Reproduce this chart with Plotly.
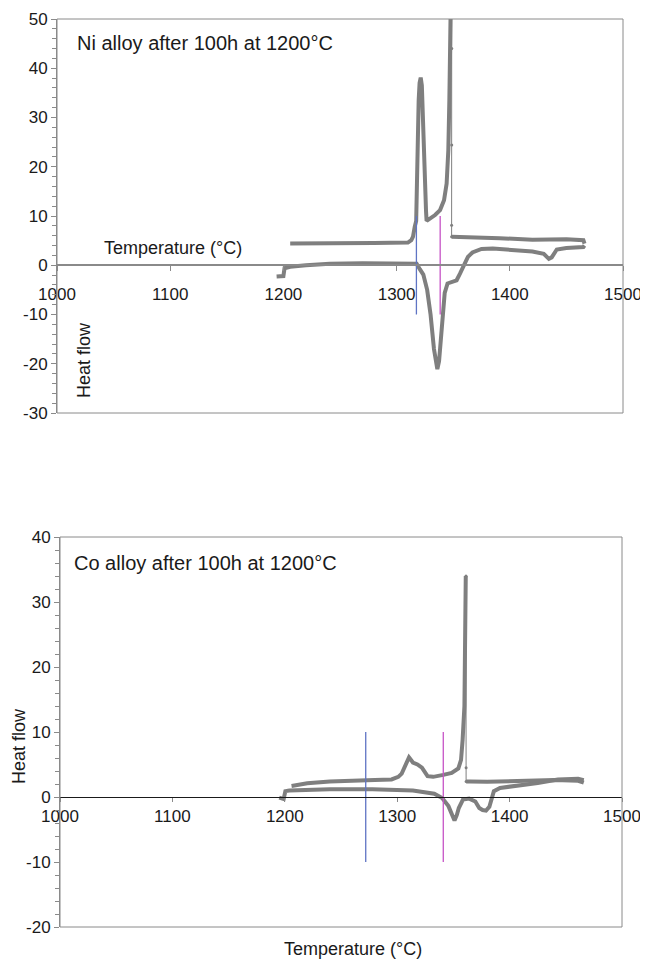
import plotly.graph_objects as go

# target picture size, and the 8px body margin the html page adds round the figure
W, H = 648, 965
OFF = 8
FW, FH = W - OFF, H - OFF

# ---- Ni alloy after 100h at 1200C (top panel) ----
# heating run
ni_heat_t = [1194, 1197, 1200, 1201, 1206, 1220, 1241, 1270, 1300, 1314, 1317.7, 1320.5,
             1323.6, 1327, 1330, 1333, 1334.5, 1336, 1337.5, 1339.5, 1341, 1342.5, 1345,
             1349, 1353, 1356, 1359, 1363, 1367, 1370.7, 1375, 1385, 1400, 1420, 1430,
             1433, 1434.5, 1437, 1439, 1441.5, 1450, 1460, 1465, 1466]
ni_heat_q = [-2.3, -2.3, -2.2, -0.6, -0.3, 0.0, 0.3, 0.4, 0.4, 0.4, 0.3, -0.8,
             -1.9, -5.0, -10.0, -17.0, -19.8, -21.1, -19.5, -13.0, -9.0, -5.6, -3.7,
             -3.3, -3.05, -1.7, -0.3, 1.7, 2.6, 3.0, 3.3, 3.4, 3.2, 2.8, 2.3,
             1.7, 1.3, 1.6, 2.2, 3.2, 3.5, 3.6, 3.7, 4.0]
# cooling run, down to the first undercooling point
ni_cool_a_t = [1466, 1465, 1450, 1420, 1391, 1362, 1350, 1348.6]
ni_cool_a_q = [4.4, 5.1, 5.3, 5.2, 5.5, 5.6, 5.7, 5.8]
# recalescence jump (sparse points)
ni_jump_t = [1348.6, 1348.6, 1348.7, 1348.7, 1348.7]
ni_jump_q = [5.8, 8.1, 24.4, 44.0, 56.0]
# cooling run after the jump
ni_cool_b_t = [1348.0, 1347.5, 1346.6, 1345.7, 1344.2, 1341.9, 1338.4, 1334, 1329.5, 1326.5,
               1326, 1325.5, 1324.5, 1323, 1322.3, 1321.3, 1320.3, 1319.5, 1318.8, 1318.2,
               1317.3, 1316, 1314.5, 1313, 1310, 1280, 1250, 1220, 1206]
ni_cool_b_q = [56.0, 43.7, 33.5, 23.4, 16.6, 13.2, 11.2, 10.2, 9.5, 9.0,
               11.0, 15.0, 23.4, 33.5, 36.5, 38.1, 37.0, 33.5, 23.0, 14.0,
               9.0, 7.8, 5.8, 5.1, 4.6, 4.5, 4.5, 4.4, 4.4]
ni_marks_t = [1317.5, 1338.5]
ni_yticks = [-30, -20, -10, 0, 10, 20, 30, 40, 50]
ni_ylabels = ["-30", "-20", "-10", "0", "10", "20", "30", "40", "50"]

# ---- Co alloy after 100h at 1200C (bottom panel) ----
co_heat_t = [1195, 1199, 1200.5, 1204, 1240, 1278, 1314, 1325, 1333, 1340, 1345.6,
             1349, 1351, 1353, 1354.8, 1358.5, 1364, 1369.5, 1373, 1376, 1379, 1382,
             1384, 1386, 1391.5, 1406, 1425, 1443, 1461, 1466]
co_heat_q = [-0.1, -0.3, 0.9, 1.0, 1.2, 1.2, 1.0, 0.8, 0.5, -0.15, -1.4,
             -2.8, -3.6, -2.8, -1.7, -0.4, -0.25, -0.7, -1.7, -2.0, -2.1, -1.5,
             -0.2, 0.9, 1.4, 1.7, 2.15, 2.7, 2.8, 2.6]
co_cool_a_t = [1466, 1461, 1440, 1425, 1400, 1380, 1365, 1361.3]
co_cool_a_q = [2.2, 2.5, 2.6, 2.5, 2.4, 2.35, 2.4, 2.4]
co_jump_t = [1361.3, 1361.3, 1361.2]
co_jump_q = [2.4, 4.5, 34.0]
co_cool_b_t = [1361.0, 1360.8, 1360.5, 1359.8, 1358.2, 1356.8, 1354.4, 1348.5, 1341, 1332,
               1327, 1324.5, 1322, 1318, 1314, 1310.5, 1307, 1304, 1301, 1295, 1280,
               1260, 1240, 1220, 1206]
co_cool_b_q = [34.0, 28.0, 20.0, 14.0, 8.8, 5.7, 4.4, 3.7, 3.4, 3.1,
               3.2, 3.8, 4.5, 5.0, 5.3, 6.1, 4.9, 3.6, 3.1, 2.7, 2.6,
               2.5, 2.4, 2.1, 1.7]
co_marks_t = [1272, 1341]
co_yticks = [-20, -10, 0, 10, 20, 30, 40]
co_ylabels = ["-20", "-10", "0", "10", "20", "30", "40"]

mark_q = [-10, 10]
mark_colors = ["#5f74c4", "#c653c6"]

GREY = "#7f7f7f"
AXIS = "#8a8a8a"
FONT = "Liberation Sans, Arial, sans-serif"


def fx(p):
    return (p - OFF) / FW


def fy(p):
    return 1 - (p - OFF) / FH


fig = go.Figure()


def add_panel(n, heat, cool_a, jump, cool_b, marks, yticks, box, zero_col, zero_w, tlen, standoff):
    xa, ya = ("x", "y") if n == 1 else ("x%d" % n, "y%d" % n)
    for t, q in (heat, cool_a, cool_b):
        fig.add_trace(go.Scatter(x=t, y=q, mode="lines", xaxis=xa, yaxis=ya,
                                 line=dict(color=GREY, width=4), showlegend=False))
    fig.add_trace(go.Scatter(x=jump[0], y=jump[1], mode="lines+markers", xaxis=xa, yaxis=ya,
                             line=dict(color=GREY, width=1),
                             marker=dict(color=GREY, size=3), showlegend=False))
    for t, c in zip(marks, mark_colors):
        fig.add_trace(go.Scatter(x=[t, t], y=mark_q, mode="lines", xaxis=xa, yaxis=ya,
                                 line=dict(color=c, width=1.3), showlegend=False))

    vals, texts = yticks
    yrange = [vals[0], vals[-1]]
    left, right, top, bottom = box
    xd = [fx(left), fx(right)]
    yd = [fy(bottom), fy(top)]
    pos = yd[0] + (0 - yrange[0]) / (yrange[1] - yrange[0]) * (yd[1] - yd[0])
    sfx = "" if n == 1 else str(n)
    fig.update_layout({
        "xaxis" + sfx: dict(domain=xd, range=[1000, 1500], dtick=100, anchor="free",
                            position=pos, showline=True, linecolor=zero_col, linewidth=zero_w,
                            ticks="outside", ticklen=tlen, tickcolor=AXIS, showgrid=False,
                            zeroline=False, ticklabelstandoff=standoff, automargin=False,
                            tickfont=dict(size=17, color="#1a1a1a", family=FONT)),
        "yaxis" + sfx: dict(domain=yd, range=yrange, tickvals=vals, ticktext=texts,
                            anchor=xa, showline=True, automargin=False,
                            linecolor=AXIS, linewidth=1, ticks="outside", ticklen=5,
                            tickcolor=AXIS, showgrid=False, zeroline=False,
                            minor=dict(dtick=2, ticks="outside", ticklen=4, tickcolor=AXIS),
                            tickfont=dict(size=17, color="#1a1a1a", family=FONT)),
    })
    fig.add_shape(type="rect", xref=xa + " domain", yref=ya + " domain",
                  x0=0, x1=1, y0=0, y1=1, line=dict(color=AXIS, width=1))


add_panel(1, (ni_heat_t, ni_heat_q), (ni_cool_a_t, ni_cool_a_q), (ni_jump_t, ni_jump_q),
          (ni_cool_b_t, ni_cool_b_q), ni_marks_t, (ni_yticks, ni_ylabels),
          (57, 623, 19, 413), "#8a8a8a", 2, 5, 8)
add_panel(2, (co_heat_t, co_heat_q), (co_cool_a_t, co_cool_a_q), (co_jump_t, co_jump_q),
          (co_cool_b_t, co_cool_b_q), co_marks_t, (co_yticks, co_ylabels),
          (60, 622, 537, 927), "#1a1a1a", 1, 4, 0)


def label(text, x, y, size, xanchor="center", angle=0):
    fig.add_annotation(text=text, x=fx(x), y=fy(y), xref="paper", yref="paper",
                       xanchor=xanchor, yanchor="middle", showarrow=False, textangle=angle,
                       font=dict(size=size, color="#1a1a1a", family=FONT))


label("Ni alloy after 100h at 1200°C", 75, 43, 20, xanchor="left")
label("Temperature (°C)", 102, 248, 18, xanchor="left")
label("Heat flow", 84, 360, 18, angle=-90)
label("Co alloy after 100h at 1200°C", 72, 563, 20, xanchor="left")
label("Heat flow", 19, 746, 18, angle=-90)
label("Temperature (°C)", 353, 949, 18)

fig.update_layout(width=FW, height=FH, margin=dict(l=0, r=0, t=0, b=0),
                  plot_bgcolor="white", paper_bgcolor="white",
                  font=dict(family=FONT, color="#1a1a1a"))

fig.write_html("out.html")
